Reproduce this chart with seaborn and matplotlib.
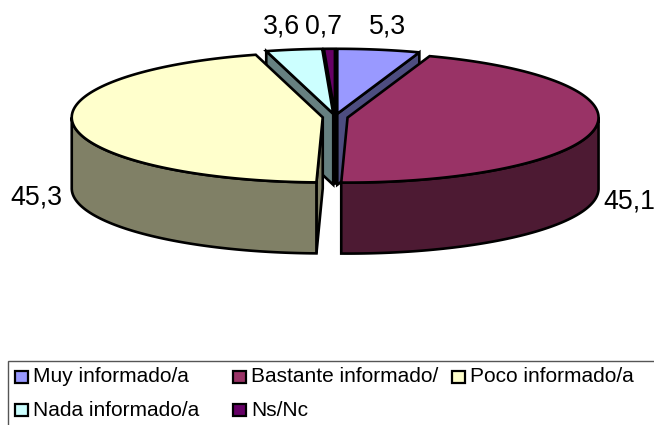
import numpy as np
import pandas as pd
import seaborn as sns
import matplotlib.pyplot as plt
from matplotlib.patches import Polygon, Rectangle

categorias = ['Muy informado/a', 'Bastante informado/', 'Poco informado/a', 'Nada informado/a', 'Ns/Nc']
valores = [5.3, 45.1, 45.3, 3.6, 0.7]
etiquetas = ['5,3', '45,1', '45,3', '3,6', '0,7']
colores = ['#9999FF', '#993366', '#FFFFCC', '#CCFFFF', '#660066']

sns.set_theme(style='white')
plt.rcParams['font.family'] = ['Liberation Sans', 'DejaVu Sans']

df = pd.DataFrame({'cat': categorias, 'val': valores, 'lab': etiquetas, 'col': colores})
df['fin'] = df['val'].cumsum() / df['val'].sum() * 360
df['ini'] = df['fin'].shift(1).fillna(0)

# geometria del pastel 3D en pixeles
cx, cy = 335.2, 117
rx, ry = 251, 65
alto = 71
expl = 0.05
lw = 1.9

fig = plt.figure(figsize=(6.54, 4.25), dpi=100)
ax = fig.add_axes([0, 0, 1, 1])
ax.set_xlim(0, 654)
ax.set_ylim(425, 0)
ax.axis('off')


def borde(x0, y0, ang):
    a = np.radians(ang)
    return x0 + rx * np.sin(a), y0 - ry * np.cos(a)


def dibuja(puntos, color, z):
    ax.add_patch(Polygon(puntos, closed=True, fc=color, ec='black', lw=lw, joinstyle='miter', zorder=z))


def pared(x0, y0, ang, color, z):
    xb, yb = borde(x0, y0, ang)
    dibuja([(x0, y0), (xb, yb), (xb, yb + alto), (x0, y0 + alto)], color, z)


# orden de pintado: de atras hacia delante
orden = ['Ns/Nc', 'Nada informado/a', 'Muy informado/a', 'Bastante informado/', 'Poco informado/a']
for z, nombre in enumerate(orden):
    s = df[df['cat'] == nombre].iloc[0]
    medio = np.radians((s['ini'] + s['fin']) / 2)
    x0 = cx + expl * rx * np.sin(medio)
    y0 = cy - expl * ry * np.cos(medio)
    oscuro = tuple(v * 0.5 for v in plt.matplotlib.colors.to_rgb(s['col']))

    if np.sin(np.radians(s['ini'])) < -1e-6:
        pared(x0, y0, s['ini'], oscuro, z * 10 + 1)
    if np.sin(np.radians(s['fin'])) > 1e-6:
        pared(x0, y0, s['fin'], oscuro, z * 10 + 1)

    # lateral exterior, solo la parte que mira al frente
    a1, a2 = max(s['ini'], 90), min(s['fin'], 270)
    if a2 > a1:
        t = np.linspace(a1, a2, 120)
        xs, ys = borde(x0, y0, t)
        lado = list(zip(xs, ys + alto)) + list(zip(xs[::-1], ys[::-1]))
        dibuja(lado, oscuro, z * 10 + 2)

    t = np.linspace(s['ini'], s['fin'], 200)
    xs, ys = borde(x0, y0, t)
    dibuja([(x0, y0)] + list(zip(xs, ys)), s['col'], z * 10 + 3)

# etiquetas de datos
pos_etiquetas = {'5,3': (388, 26), '45,1': (629, 201), '45,3': (36, 197), '3,6': (282, 26), '0,7': (323, 26)}
for lab, (x, y) in pos_etiquetas.items():
    ax.text(x, y, lab, fontsize=19.3, color='black', ha='center', va='center', zorder=100)

# leyenda
ax.add_patch(Rectangle((7.5, 360.5), 700, 100, fc='white', ec='#555555', lw=1.0, zorder=90))
pos_leyenda = [(15, 377), (233, 377), (452, 377), (15, 410), (233, 410)]
for (x, y), cat, col in zip(pos_leyenda, categorias, colores):
    ax.add_patch(Rectangle((x, y - 6), 13, 12, fc=col, ec='black', lw=1.6, zorder=91))
    ax.text(x + 18, y, cat, fontsize=15, color='black', ha='left', va='center', zorder=92)

fig.savefig('out.png', dpi=100, facecolor='white')
